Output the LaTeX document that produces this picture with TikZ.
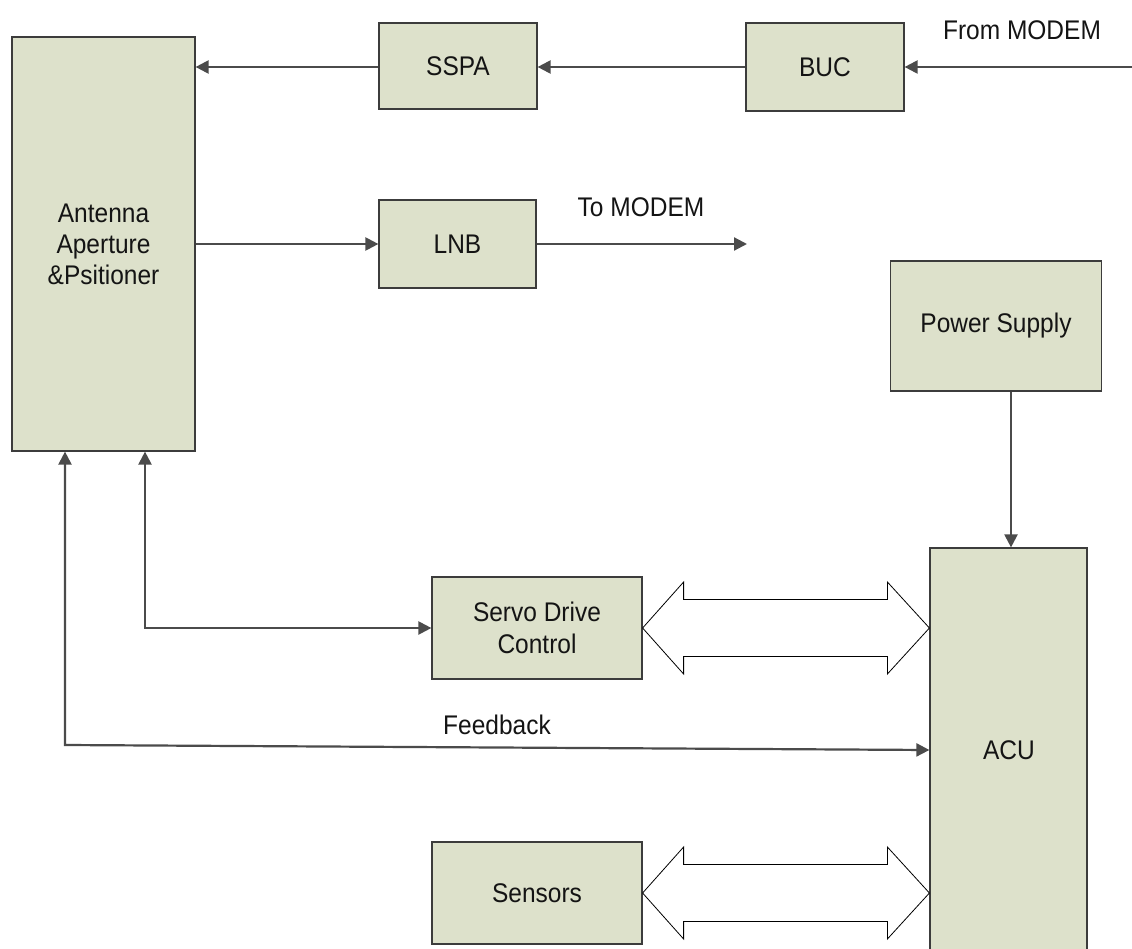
\documentclass[tikz,border=0pt]{standalone}
\usepackage{fontspec}
\setmainfont{Liberation Sans}
\usetikzlibrary{arrows.meta,calc}
\definecolor{boxfill}{RGB}{221,225,203}
\definecolor{boxline}{RGB}{60,60,60}
\definecolor{connline}{RGB}{75,75,75}
\definecolor{txt}{RGB}{20,20,20}
\newcommand{\tallt}[1]{\scalebox{1}[1.1]{#1}}
\begin{document}
\begin{tikzpicture}[x=1pt,y=-1pt,
  box/.style={draw=boxline,line width=1.2pt,fill=boxfill,inner sep=0pt,
    align=center,text=txt,font=\fontsize{24.5}{31}\selectfont},
  lbl/.style={text=txt,font=\fontsize{24.5}{31}\selectfont,inner sep=0pt},
  conn/.style={draw=connline,line width=2.2pt,-{Triangle[length=13pt,width=13pt]}},
  biconn/.style={draw=connline,line width=2.2pt,{Triangle[length=13pt,width=13pt]}-{Triangle[length=13pt,width=13pt]}},
  blockarrow/.style={draw=black,line width=0.8pt,fill=white,line join=miter}]
\useasboundingbox (0,0) rectangle (1132,949);
% boxes
\node[box,minimum width=183pt,minimum height=414pt] (ant) at (103.5,244) {\tallt{Antenna}\\\tallt{Aperture}\\\tallt{\&Psitioner}};
\node[box,minimum width=158pt,minimum height=86pt] (sspa) at (458,66) {\tallt{SSPA}};
\node[box,minimum width=158pt,minimum height=88pt] (buc) at (825,67) {\tallt{BUC}};
\node[box,minimum width=157pt,minimum height=88pt] (lnb) at (457.5,244) {\tallt{LNB}};
\node[box,minimum width=211pt,minimum height=130pt] (ps) at (996,326) {\tallt{Power Supply}};
\node[box,minimum width=210pt,minimum height=102pt,font=\fontsize{24.5}{32}\selectfont] (servo) at (537,628) {\tallt{Servo Drive}\\\tallt{Control}};
\node[box,minimum width=210pt,minimum height=102pt] (sens) at (537,893) {\tallt{Sensors}};
\node[box,minimum width=157pt,minimum height=410pt] (acu) at (1008.5,753) {};
\node[lbl] (acul) at (1009,750) {\tallt{ACU}};
% labels
\node[lbl] (lfrom) at (1022,30) {\tallt{From MODEM}};
\node[lbl] (lto) at (641,207) {\tallt{To MODEM}};
\node[lbl] (lfb) at (497,725) {\tallt{Feedback}};
% coordinates
\coordinate (modem) at (1132,67);
\coordinate (tomodem) at (747,244);
\coordinate (sv) at (145,628);
\coordinate (fb) at (65,745);
\coordinate (fbend) at (acu.west |- 0,750);
% connectors
\draw[conn] (modem) -- (buc.east |- modem);
\draw[conn] (buc.west |- modem) -- (sspa.east |- modem);
\draw[conn] (sspa.west |- 0,67) -- (ant.east |- 0,67);
\draw[conn] (ant.east |- lnb.west) -- (lnb.west);
\draw[conn] (lnb.east) -- (tomodem);
\draw[conn] (ps.south -| 1011,0) -- (acu.north -| 1011,0);
\draw[biconn] (ant.south -| sv) -- (sv) -- (servo.west);
\draw[biconn] (ant.south -| fb) -- (fb) -- (fbend);
% block double arrows
\draw[blockarrow] let \p1=(servo.east), \p2=(acu.west |- servo.east) in
  (\p1) -- (\x1+41pt,\y1+46pt) -- (\x1+41pt,\y1+28.5pt) -- (\x2-42pt,\y1+28.5pt)
  -- (\x2-42pt,\y1+46pt) -- (\p2) -- (\x2-42pt,\y1-46pt) -- (\x2-42pt,\y1-28.5pt)
  -- (\x1+41pt,\y1-28.5pt) -- (\x1+41pt,\y1-46pt) -- cycle;
\draw[blockarrow] let \p1=(sens.east), \p2=(acu.west |- sens.east) in
  (\p1) -- (\x1+41pt,\y1+46pt) -- (\x1+41pt,\y1+28.5pt) -- (\x2-42pt,\y1+28.5pt)
  -- (\x2-42pt,\y1+46pt) -- (\p2) -- (\x2-42pt,\y1-46pt) -- (\x2-42pt,\y1-28.5pt)
  -- (\x1+41pt,\y1-28.5pt) -- (\x1+41pt,\y1-46pt) -- cycle;
\end{tikzpicture}
\end{document}
